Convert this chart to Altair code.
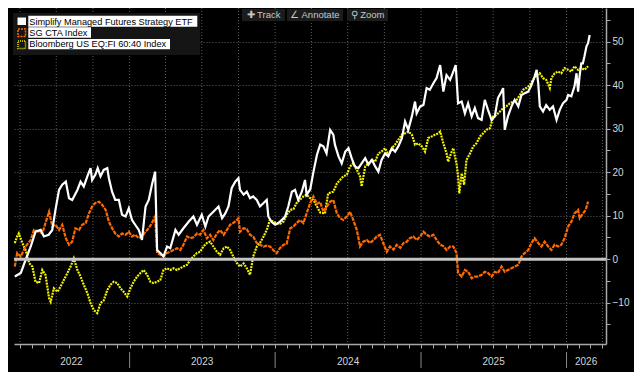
import altair as alt
import pandas as pd

# ---------------- data (decimal year, cumulative return %) ----------------
simplify = [
    (2022.212, -4.0), (2022.253, -3.2), (2022.287, -0.2), (2022.322, 2.9), (2022.356, 6.3),
    (2022.390, 6.7), (2022.411, 5.2), (2022.445, 5.6), (2022.470, 6.7), (2022.493, 11.3),
    (2022.516, 15.9), (2022.539, 17.1), (2022.562, 17.8), (2022.584, 14.0), (2022.607, 13.6),
    (2022.642, 15.9), (2022.664, 17.8), (2022.687, 16.7), (2022.710, 19.0), (2022.733, 20.9),
    (2022.745, 18.2), (2022.767, 19.4), (2022.783, 20.9), (2022.801, 19.0), (2022.824, 20.5),
    (2022.847, 20.9), (2022.858, 18.6), (2022.882, 15.5), (2022.904, 13.6), (2022.927, 13.6),
    (2022.950, 10.2), (2022.973, 9.8), (2022.995, 11.7), (2023.019, 9.0), (2023.041, 7.9),
    (2023.064, 6.7), (2023.087, 4.4), (2023.110, 12.1), (2023.132, 13.6), (2023.156, 17.1),
    (2023.178, 20.1), (2023.190, 2.1), (2023.213, 1.4), (2023.235, 0.6), (2023.259, 2.9),
    (2023.281, 2.5), (2023.316, 6.7), (2023.338, 5.6), (2023.372, 7.1), (2023.407, 8.6),
    (2023.441, 9.8), (2023.464, 7.9), (2023.498, 10.2), (2023.521, 7.5), (2023.544, 9.8),
    (2023.578, 10.9), (2023.612, 12.1), (2023.636, 9.4), (2023.658, 10.5), (2023.681, 12.1),
    (2023.704, 16.3), (2023.727, 17.8), (2023.749, 18.6), (2023.761, 15.9), (2023.784, 14.8),
    (2023.807, 15.5), (2023.830, 14.0), (2023.852, 14.4), (2023.875, 13.6), (2023.898, 12.1),
    (2023.921, 12.9), (2023.944, 13.6), (2023.955, 9.8), (2023.978, 8.6), (2024.001, 7.9),
    (2024.024, 8.3), (2024.047, 9.0), (2024.069, 9.8), (2024.092, 12.1), (2024.115, 15.5),
    (2024.138, 15.9), (2024.161, 13.6), (2024.184, 15.5), (2024.207, 18.2), (2024.218, 14.8),
    (2024.241, 16.0), (2024.263, 20.0), (2024.287, 24.0), (2024.309, 26.3), (2024.332, 25.9),
    (2024.355, 24.3), (2024.378, 29.7), (2024.400, 28.6), (2024.412, 26.3), (2024.435, 23.6),
    (2024.458, 22.0), (2024.481, 24.7), (2024.503, 25.5), (2024.527, 23.2), (2024.549, 21.3),
    (2024.572, 20.9), (2024.595, 22.0), (2024.618, 23.2), (2024.640, 21.7), (2024.664, 22.8),
    (2024.686, 21.3), (2024.709, 20.1), (2024.732, 22.8), (2024.755, 24.3), (2024.777, 23.6),
    (2024.801, 25.5), (2024.823, 24.7), (2024.846, 25.9), (2024.869, 27.8), (2024.892, 31.6),
    (2024.915, 29.7), (2024.938, 32.8), (2024.961, 36.2), (2024.972, 33.5), (2024.995, 35.1),
    (2025.017, 35.4), (2025.041, 39.3), (2025.063, 38.9), (2025.086, 40.4), (2025.109, 41.6),
    (2025.132, 44.6), (2025.154, 38.5), (2025.178, 42.3), (2025.200, 41.2), (2025.223, 43.1),
    (2025.241, 44.6), (2025.257, 35.8), (2025.281, 36.2), (2025.303, 33.5), (2025.326, 35.8),
    (2025.349, 32.8), (2025.372, 34.7), (2025.394, 32.4), (2025.418, 32.0), (2025.440, 36.6),
    (2025.463, 34.3), (2025.486, 32.0), (2025.509, 32.8), (2025.531, 37.0), (2025.555, 38.5),
    (2025.566, 39.3), (2025.577, 29.7), (2025.600, 32.8), (2025.623, 35.1), (2025.646, 36.6),
    (2025.669, 35.1), (2025.692, 37.7), (2025.715, 38.1), (2025.737, 38.5), (2025.760, 40.0),
    (2025.783, 42.0), (2025.795, 43.5), (2025.806, 40.4), (2025.817, 35.1), (2025.840, 33.9),
    (2025.863, 35.4), (2025.886, 34.3), (2025.908, 35.1), (2025.932, 32.0), (2025.954, 34.3),
    (2025.977, 35.8), (2026.000, 36.6), (2026.011, 37.7), (2026.034, 37.4), (2026.057, 39.7),
    (2026.069, 42.7), (2026.080, 38.5), (2026.091, 42.3), (2026.103, 45.0), (2026.114, 45.0),
    (2026.126, 46.6), (2026.137, 48.9), (2026.148, 49.6), (2026.160, 51.5),
]

sg_cta = [
    (2022.212, -1.7), (2022.230, 1.4), (2022.253, 0.6), (2022.287, 2.9), (2022.322, 4.4),
    (2022.344, 6.7), (2022.379, 6.3), (2022.402, 5.9), (2022.424, 8.3), (2022.447, 10.9),
    (2022.470, 7.5), (2022.493, 7.9), (2022.516, 6.7), (2022.539, 7.9), (2022.562, 4.8),
    (2022.584, 3.3), (2022.607, 4.0), (2022.630, 7.1), (2022.653, 6.7), (2022.676, 7.9),
    (2022.699, 8.3), (2022.721, 10.5), (2022.745, 12.1), (2022.767, 12.9), (2022.790, 13.2),
    (2022.813, 12.5), (2022.836, 11.3), (2022.858, 8.6), (2022.882, 7.1), (2022.904, 5.9),
    (2022.927, 5.2), (2022.950, 5.9), (2022.973, 5.6), (2022.995, 6.3), (2023.019, 5.2),
    (2023.041, 5.6), (2023.064, 4.8), (2023.087, 5.2), (2023.110, 6.3), (2023.132, 7.1),
    (2023.156, 8.3), (2023.178, 9.8), (2023.190, 1.4), (2023.213, 1.0), (2023.235, 0.6),
    (2023.259, 1.4), (2023.281, 1.7), (2023.304, 2.1), (2023.327, 2.5), (2023.350, 2.1),
    (2023.372, 3.3), (2023.396, 5.2), (2023.418, 4.8), (2023.441, 5.0), (2023.464, 5.9),
    (2023.487, 5.6), (2023.509, 6.7), (2023.533, 4.8), (2023.555, 5.6), (2023.578, 4.4),
    (2023.601, 5.9), (2023.624, 6.7), (2023.647, 5.6), (2023.670, 6.7), (2023.692, 7.9),
    (2023.715, 8.3), (2023.738, 9.0), (2023.749, 9.4), (2023.761, 6.3), (2023.784, 7.1),
    (2023.807, 6.9), (2023.830, 5.6), (2023.852, 5.2), (2023.875, 3.7), (2023.898, 3.3),
    (2023.921, 2.9), (2023.944, 3.1), (2023.967, 2.9), (2023.989, 2.1), (2024.013, 1.4),
    (2024.035, 2.5), (2024.058, 3.3), (2024.081, 3.5), (2024.104, 7.1), (2024.126, 7.5),
    (2024.150, 8.3), (2024.172, 9.0), (2024.195, 8.3), (2024.218, 10.5), (2024.241, 12.9),
    (2024.263, 14.4), (2024.287, 12.7), (2024.309, 13.1), (2024.332, 10.9), (2024.355, 12.0),
    (2024.378, 13.2), (2024.400, 13.6), (2024.424, 10.5), (2024.446, 9.4), (2024.469, 9.0),
    (2024.492, 9.8), (2024.515, 10.9), (2024.538, 9.0), (2024.561, 6.7), (2024.583, 2.9),
    (2024.606, 4.0), (2024.629, 4.4), (2024.652, 3.7), (2024.675, 4.4), (2024.698, 5.2),
    (2024.721, 5.6), (2024.743, 3.7), (2024.766, 1.7), (2024.789, 2.9), (2024.812, 2.2),
    (2024.835, 3.3), (2024.858, 2.6), (2024.880, 3.7), (2024.904, 4.0), (2024.926, 4.8),
    (2024.949, 5.2), (2024.972, 4.4), (2024.995, 5.2), (2025.017, 6.3), (2025.041, 5.6),
    (2025.063, 5.2), (2025.086, 5.6), (2025.109, 4.4), (2025.132, 3.3), (2025.154, 3.0),
    (2025.178, 2.1), (2025.200, 2.9), (2025.223, 2.9), (2025.246, 1.4), (2025.257, -3.2),
    (2025.281, -4.0), (2025.303, -2.5), (2025.326, -2.9), (2025.349, -4.4), (2025.372, -4.0),
    (2025.394, -4.0), (2025.418, -3.6), (2025.440, -2.9), (2025.463, -3.2), (2025.486, -4.0),
    (2025.509, -2.9), (2025.531, -3.2), (2025.555, -1.7), (2025.577, -2.9), (2025.600, -2.5),
    (2025.623, -2.1), (2025.646, -1.7), (2025.669, -1.3), (2025.692, 0.6), (2025.715, 1.4),
    (2025.737, 2.1), (2025.760, 3.7), (2025.783, 4.8), (2025.806, 3.7), (2025.829, 2.9),
    (2025.851, 4.0), (2025.874, 2.9), (2025.897, 2.1), (2025.920, 3.3), (2025.943, 2.9),
    (2025.966, 3.3), (2025.989, 4.8), (2026.011, 7.5), (2026.034, 8.6), (2026.057, 10.5),
    (2026.080, 11.3), (2026.091, 9.4), (2026.114, 10.5), (2026.132, 11.3), (2026.148, 13.2),
]

bb_6040 = [
    (2022.212, 3.7), (2022.230, 5.2), (2022.241, 5.9), (2022.265, 3.7), (2022.287, 2.1),
    (2022.310, -0.9), (2022.333, -1.7), (2022.356, -5.2), (2022.379, -5.5), (2022.402, -2.5),
    (2022.424, -3.6), (2022.447, -9.0), (2022.459, -9.8), (2022.481, -6.7), (2022.505, -7.5),
    (2022.527, -6.3), (2022.550, -4.8), (2022.573, -3.2), (2022.596, -1.7), (2022.618, 0.2),
    (2022.642, -2.5), (2022.664, -4.0), (2022.687, -5.9), (2022.710, -7.8), (2022.733, -10.1),
    (2022.756, -11.7), (2022.779, -12.4), (2022.801, -10.1), (2022.824, -9.5), (2022.847, -7.1),
    (2022.870, -5.9), (2022.893, -5.2), (2022.916, -5.5), (2022.939, -6.7), (2022.961, -7.5),
    (2022.984, -8.6), (2023.007, -6.7), (2023.030, -5.2), (2023.053, -4.0), (2023.076, -3.2),
    (2023.098, -2.5), (2023.122, -3.6), (2023.144, -5.2), (2023.167, -5.5), (2023.190, -5.2),
    (2023.213, -4.8), (2023.235, -2.5), (2023.259, -2.1), (2023.281, -2.5), (2023.304, -2.1),
    (2023.327, -2.5), (2023.350, -2.1), (2023.372, -1.7), (2023.396, -1.3), (2023.418, -0.2),
    (2023.441, 0.6), (2023.464, 1.4), (2023.487, 1.7), (2023.509, 2.9), (2023.533, 3.7),
    (2023.555, 4.0), (2023.578, 2.9), (2023.601, 1.7), (2023.624, 1.0), (2023.647, 2.5),
    (2023.670, 2.9), (2023.692, 2.1), (2023.715, 0.6), (2023.738, -0.9), (2023.761, -1.7),
    (2023.784, -1.0), (2023.807, -2.1), (2023.830, -3.6), (2023.852, 0.6), (2023.875, 2.9),
    (2023.898, 3.7), (2023.921, 5.2), (2023.944, 6.7), (2023.967, 9.0), (2023.989, 8.6),
    (2024.013, 8.3), (2024.035, 8.1), (2024.058, 8.6), (2024.081, 10.2), (2024.104, 11.3),
    (2024.126, 11.5), (2024.150, 12.9), (2024.172, 13.6), (2024.195, 14.4), (2024.218, 14.8),
    (2024.241, 14.0), (2024.263, 13.6), (2024.287, 12.1), (2024.309, 10.7), (2024.344, 10.5),
    (2024.366, 15.1), (2024.400, 15.5), (2024.424, 17.4), (2024.446, 18.2), (2024.469, 19.0),
    (2024.492, 19.4), (2024.515, 21.3), (2024.538, 22.0), (2024.561, 20.5), (2024.583, 19.0),
    (2024.595, 16.7), (2024.618, 21.3), (2024.640, 22.0), (2024.664, 22.8), (2024.686, 22.4),
    (2024.709, 24.3), (2024.732, 24.7), (2024.755, 25.5), (2024.777, 24.0), (2024.801, 25.5),
    (2024.823, 26.3), (2024.846, 27.4), (2024.869, 28.6), (2024.892, 28.9), (2024.915, 29.3),
    (2024.938, 28.6), (2024.961, 26.3), (2024.983, 26.6), (2025.006, 25.9), (2025.029, 24.7),
    (2025.052, 27.8), (2025.075, 28.2), (2025.098, 28.6), (2025.120, 28.9), (2025.132, 29.3),
    (2025.154, 26.6), (2025.178, 24.3), (2025.189, 22.4), (2025.212, 24.7), (2025.223, 25.5),
    (2025.235, 23.6), (2025.246, 22.0), (2025.257, 19.0), (2025.264, 15.1), (2025.281, 19.7),
    (2025.296, 17.1), (2025.315, 22.8), (2025.337, 24.3), (2025.360, 25.9), (2025.383, 26.6),
    (2025.406, 28.2), (2025.429, 28.9), (2025.452, 29.7), (2025.474, 30.1), (2025.497, 32.8),
    (2025.520, 33.1), (2025.543, 33.9), (2025.566, 34.7), (2025.589, 35.1), (2025.612, 35.8),
    (2025.634, 36.2), (2025.658, 36.6), (2025.680, 37.7), (2025.703, 38.9), (2025.726, 39.3),
    (2025.749, 40.0), (2025.771, 41.2), (2025.795, 42.3), (2025.817, 42.7), (2025.840, 41.6),
    (2025.863, 41.2), (2025.886, 39.3), (2025.897, 41.6), (2025.920, 42.7), (2025.943, 43.1),
    (2025.966, 42.7), (2025.989, 43.9), (2026.011, 43.5), (2026.034, 43.1), (2026.057, 44.3),
    (2026.080, 43.5), (2026.103, 43.9), (2026.126, 43.5), (2026.148, 44.3),
]

series_names = ["Simplify Managed Futures Strategy ETF", "SG CTA Index",
                "Bloomberg US EQ:FI 60:40 Index"]
year_labels = ["2022", "2023", "2024", "2025", "2026"]
year_label_dates = ["2022-08-08", "2023-07-02", "2024-07-02", "2025-07-02", "2026-02-19"]
year_starts = ["2023-01-01", "2024-01-01", "2025-01-01", "2026-01-01"]
y_ticks = list(range(-15, 56, 5))
toolbar_items = ["\u271a Track", "\u2220 Annotate", "\u26b2 Zoom"]


def dec_to_ts(t):
    y = int(t)
    a = pd.Timestamp(year=y, month=1, day=1)
    b = pd.Timestamp(year=y + 1, month=1, day=1)
    return (a + (b - a) * (t - y)).floor("D")


def frame(pairs):
    return pd.DataFrame({"date": [dec_to_ts(t) for t, _ in pairs],
                         "value": [v for _, v in pairs]})


df_w, df_o, df_y = frame(simplify), frame(sg_cta), frame(bb_6040)
quarters = pd.DataFrame({"date": pd.date_range("2022-04-01", "2026-04-01", freq="QS")})
years_df = pd.DataFrame({"date": pd.to_datetime(year_label_dates), "label": year_labels})
seps_df = pd.DataFrame({"date": pd.to_datetime(year_starts)})
zero_df = pd.DataFrame({"value": [0]})
one = pd.DataFrame({"k": [0]})

AX = "#a8a8a8"
FONT = "Liberation Sans"

xscale = alt.Scale(domain=[alt.DateTime(year=2022, month=3, date=17),
                           alt.DateTime(year=2026, month=4, date=10)])
yscale = alt.Scale(domain=[-19.5, 57.7], nice=False, zero=False)

X = alt.X("date:T", scale=xscale, title=None,
          axis=alt.Axis(labels=False, grid=False, tickCount={"interval": "month", "step": 1},
                        tickSize=4, tickColor=AX, domainColor=AX, domainWidth=1.5))
Y = alt.Y("value:Q", scale=yscale, title=None,
          axis=alt.Axis(orient="right", values=y_ticks,
                        labelExpr="datum.value % 10 === 0 ? datum.label : ''",
                        grid=True, gridColor="#5e5e5e", gridDash=[1, 2],
                        gridOpacity={"condition": {"test": "datum.value % 10 === 0", "value": 1},
                                     "value": 0},
                        tickColor=AX, tickSize=4, domainColor=AX, domainWidth=1.5,
                        labelColor="#d8d8d8", labelFontSize=10, labelFont=FONT,
                        labelPadding=2))

layers = []
# quarterly vertical grid
layers.append(alt.Chart(quarters).mark_rule(color="#5e5e5e", strokeDash=[1, 2], strokeWidth=1)
              .encode(x=X))
# series
layers.append(alt.Chart(df_y).mark_line(color="#f4f400", strokeWidth=2.2, strokeDash=[2, 1])
              .encode(x=X, y=Y))
layers.append(alt.Chart(df_o).mark_line(color="#ff6a00", strokeWidth=2.2, strokeDash=[4, 1])
              .encode(x=X, y=Y))
layers.append(alt.Chart(df_w).mark_line(color="#ffffff", strokeWidth=2.2).encode(x=X, y=Y))
# zero line
layers.append(alt.Chart(zero_df).mark_rule(color="#c4c4c4", strokeWidth=3).encode(y=Y))
# year separators and labels
layers.append(alt.Chart(seps_df).mark_rule(color="#8a8a8a", strokeWidth=1)
              .encode(x=X, y=alt.value(344), y2=alt.value(360)))
layers.append(alt.Chart(years_df).mark_text(color="#d4d4d4", fontSize=10, font=FONT,
                                            baseline="middle", align="center")
              .encode(x=X, text="label:N", y=alt.value(354)))


# legend box
def box(x1, x2, y1, y2, **kw):
    return alt.Chart(one).mark_rect(**kw).encode(
        x=alt.value(x1), x2=alt.value(x2), y=alt.value(y1), y2=alt.value(y2))


def label(txt, x, y, **kw):
    return alt.Chart(one).mark_text(text=txt, baseline="middle", **kw).encode(
        x=alt.value(x), y=alt.value(y))


layers.append(box(-1, 186, 5, 47, color="#151515"))
rows = [(7.7, 18.7, 183.3), (19.3, 29.7, 77), (31, 41.3, 156)]
for (y1, y2, xe), name in zip(rows, series_names):
    layers.append(box(14.3, xe, y1, y2, color="#ffffff"))
    layers.append(label(name, 15.3, (y1 + y2) / 2 + 0.3, align="left", font=FONT,
                        fontSize=9.2, color="#000000"))
layers.append(box(3.5, 12, 9.5, 17, color="#ffffff"))
layers.append(box(4, 11.5, 21, 28.5, fillOpacity=0, stroke="#ff6a00", strokeWidth=1.5,
                  strokeDash=[2, 1]))
layers.append(box(4, 11.5, 33, 40.5, fillOpacity=0, stroke="#e8e800", strokeWidth=1.5,
                  strokeDash=[1, 1]))

# toolbar
tb = [(228, 271), (273, 329), (333, 374)]
for (x1, x2), txt in zip(tb, toolbar_items):
    layers.append(box(x1, x2, 1, 13, color="#1c1c1c"))
    layers.append(label(txt, (x1 + x2) / 2, 7.3, align="center", font=FONT, fontSize=9.5,
                        color="#c8c8c8"))

chart = alt.layer(*layers).properties(
    width=592, height=336,
    background="#000000",
    padding={"left": 6, "top": 0, "right": 28, "bottom": 28},
    autosize=alt.AutoSizeParams(type="none"),
).configure_view(strokeWidth=0)

chart.save("out.html", embed_options={"renderer": "svg", "actions": False})
